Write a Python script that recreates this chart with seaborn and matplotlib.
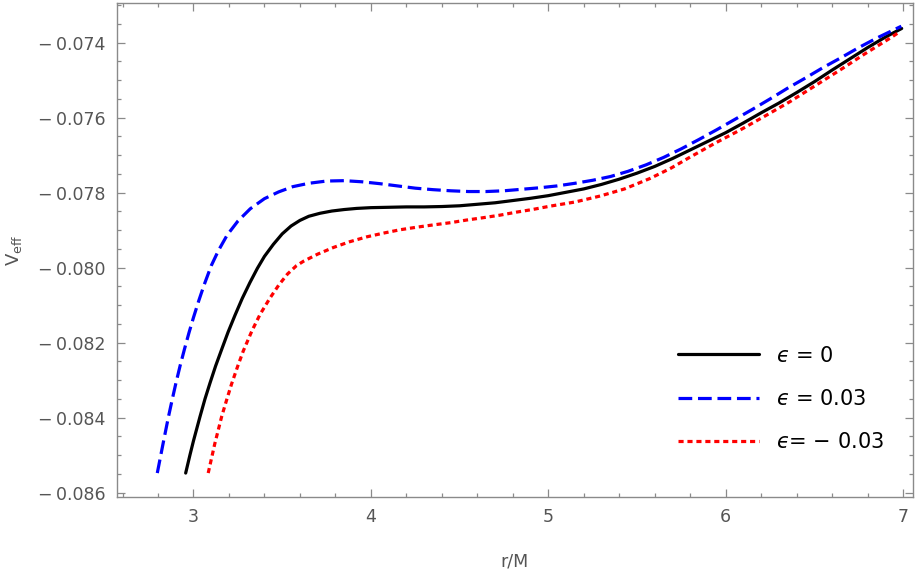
import matplotlib
matplotlib.use("Agg")
import matplotlib.pyplot as plt
import matplotlib.ticker as mticker
import numpy as np
import pandas as pd
import seaborn as sns

# ---- data ----
r_eps0 = [2.956, 2.98, 3.00, 3.037, 3.065, 3.093, 3.125, 3.159, 3.195, 3.234, 3.275,
          3.318, 3.36, 3.40, 3.45, 3.50, 3.55, 3.60, 3.65, 3.713, 3.78, 3.85, 3.92,
          4.00, 4.10, 4.20, 4.30, 4.40, 4.50, 4.60, 4.70, 4.80, 4.90, 5.00, 5.10,
          5.20, 5.30, 5.40, 5.50, 5.60, 5.70, 5.80, 5.90, 6.00, 6.10, 6.20, 6.30,
          6.40, 6.50, 6.60, 6.70, 6.80, 6.90, 6.992]
v_eps0 = [-0.08548, -0.08500, -0.08462, -0.08397, -0.08350, -0.08308, -0.08262,
          -0.08218, -0.08172, -0.08127, -0.08082, -0.08040, -0.08002, -0.07970,
          -0.07938, -0.07910, -0.07889, -0.07874, -0.07863, -0.07855, -0.07849,
          -0.07845, -0.07842, -0.07840, -0.07839, -0.07838, -0.07838, -0.07837,
          -0.07835, -0.07831, -0.07827, -0.07821, -0.07815, -0.07808, -0.07799,
          -0.07790, -0.07778, -0.07764, -0.07748, -0.07730, -0.07709, -0.07686,
          -0.07663, -0.07640, -0.07614, -0.07587, -0.07561, -0.07533, -0.07504,
          -0.07473, -0.07443, -0.07413, -0.07385, -0.07362]

r_eps_p = [2.796, 2.83, 2.858, 2.88, 2.901, 2.925, 2.95, 2.975, 3.00, 3.03, 3.06,
           3.10, 3.14, 3.19, 3.25, 3.32, 3.40, 3.48, 3.56, 3.65, 3.75, 3.85, 3.95,
           4.05, 4.15, 4.25, 4.35, 4.45, 4.55, 4.65, 4.75, 4.85, 4.95, 5.05, 5.15,
           5.25, 5.35, 5.45, 5.55, 5.65, 5.75, 5.85, 5.95, 6.05, 6.15, 6.25, 6.35,
           6.45, 6.55, 6.65, 6.75, 6.85, 6.99]
v_eps_p = [-0.08548, -0.08466, -0.08400, -0.08352, -0.08308, -0.08261, -0.08216,
           -0.08173, -0.08133, -0.08088, -0.08046, -0.07995, -0.07955, -0.07913,
           -0.07876, -0.07843, -0.07816, -0.07798, -0.07784, -0.07775, -0.07769,
           -0.07768, -0.07771, -0.07776, -0.07782, -0.07788, -0.07792, -0.07795,
           -0.07797, -0.07797, -0.07795, -0.07791, -0.07787, -0.07782, -0.07775,
           -0.07767, -0.07757, -0.07743, -0.07726, -0.07706, -0.07683, -0.07658,
           -0.07632, -0.07605, -0.07578, -0.07550, -0.07521, -0.07494, -0.07466,
           -0.07440, -0.07413, -0.07388, -0.07356]

r_eps_m = [3.083, 3.12, 3.159, 3.19, 3.215, 3.25, 3.281, 3.33, 3.375, 3.43, 3.48,
           3.53, 3.58, 3.62, 3.70, 3.79, 3.88, 3.976, 4.07, 4.164, 4.26, 4.352,
           4.45, 4.54, 4.63, 4.728, 4.82, 4.91, 5.01, 5.15, 5.292, 5.43, 5.574,
           5.69, 5.80, 5.94, 6.081, 6.22, 6.363, 6.50, 6.644, 6.78, 6.926, 6.98]
v_eps_m = [-0.08548, -0.08470, -0.08397, -0.08348, -0.08310, -0.08262, -0.08222,
           -0.08168, -0.08125, -0.08082, -0.08047, -0.08017, -0.07995, -0.07983,
           -0.07964, -0.07946, -0.07931, -0.07918, -0.07908, -0.07899, -0.07892,
           -0.07886, -0.07880, -0.07873, -0.07867, -0.07860, -0.07852, -0.07845,
           -0.07836, -0.07825, -0.07809, -0.07790, -0.07762, -0.07735, -0.07705,
           -0.07668, -0.07633, -0.07596, -0.07557, -0.07516, -0.07473, -0.07431,
           -0.07388, -0.07371]

labels = ["$\u03f5$ = 0", "$\u03f5$ = 0.03", "$\u03f5$= $-$ 0.03"]
x_ticks = [3, 4, 5, 6, 7]
y_ticks = [-0.086, -0.084, -0.082, -0.080, -0.078, -0.076, -0.074]

sns.set_theme(style="ticks")
plt.rcParams["font.family"] = ["DejaVu Sans"]
plt.rcParams["mathtext.fontset"] = "dejavusans"

fig = plt.figure(figsize=(9.23, 5.73), dpi=100)
ax = fig.add_axes([0.1264, 0.1332, 0.9892 - 0.1264, 0.9948 - 0.1332])

df0 = pd.DataFrame({"r": r_eps0, "V": v_eps0})
dfp = pd.DataFrame({"r": r_eps_p, "V": v_eps_p})
dfm = pd.DataFrame({"r": r_eps_m, "V": v_eps_m})

lw = 2.3
sns.lineplot(data=df0, x="r", y="V", ax=ax, color="black", linewidth=lw,
             label=labels[0], estimator=None)
sns.lineplot(data=dfp, x="r", y="V", ax=ax, color=(0, 0, 1), linewidth=lw,
             linestyle=(0, (4.3, 1.8)), label=labels[1], estimator=None)
sns.lineplot(data=dfm, x="r", y="V", ax=ax, color=(1, 0, 0), linewidth=lw,
             linestyle=(0, (1.6, 1.2)), label=labels[2], estimator=None)

ax.set_xlim(2.567, 7.056)
ax.set_ylim(-0.08611, -0.07294)

ax.xaxis.set_major_locator(mticker.FixedLocator(x_ticks))
ax.xaxis.set_minor_locator(mticker.MultipleLocator(0.2))
ax.yaxis.set_major_locator(mticker.FixedLocator(y_ticks))
ax.yaxis.set_minor_locator(mticker.MultipleLocator(0.0005))
ax.xaxis.set_major_formatter(mticker.FuncFormatter(lambda v, p: f"{v:g}"))
ax.yaxis.set_major_formatter(mticker.FuncFormatter(
    lambda v, p: ("\u2212\u2009" + f"{abs(v):.3f}") if v < 0 else f"{v:.3f}"))

frame_col = "#8a8a8a"
text_col = "#555555"
for s in ax.spines.values():
    s.set_color(frame_col)
    s.set_linewidth(1.0)
ax.tick_params(which="both", direction="in", top=True, right=True,
               color=frame_col, width=0.9, labelcolor=text_col, labelsize=12.5)
ax.tick_params(which="major", length=5.5, pad=8)
ax.tick_params(which="minor", length=3)

ax.set_xlabel("r/M", fontsize=12.5, color=text_col, labelpad=19)
ax.set_ylabel(r"$\mathrm{V}_{\mathrm{eff}}$", fontsize=13, color=text_col, labelpad=10)

leg = ax.legend(loc="upper left", bbox_to_anchor=(0.695, 0.323), frameon=False,
                fontsize=15, handlelength=3.85, handletextpad=0.82,
                labelspacing=1.12, borderaxespad=0)
for t in leg.get_texts():
    t.set_color("black")

fig.savefig("out.png", dpi=100)
